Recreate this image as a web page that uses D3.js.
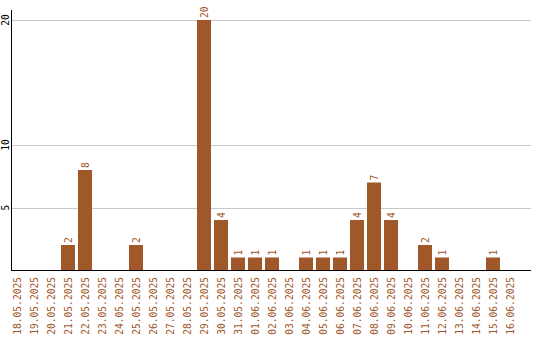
<!DOCTYPE html>
<html>
<head>
<meta charset="utf-8">
<script src="https://cdn.jsdelivr.net/npm/d3@7"></script>
<style>
  body { margin: 0; background: #fff; }
  text { font-family: "DejaVu Sans Mono", monospace; font-size: 9.6px; }
</style>
</head>
<body>
<svg id="chart" width="540" height="340"></svg>
<script>
//* Data
const dates = [
  "18.05.2025", "19.05.2025", "20.05.2025", "21.05.2025", "22.05.2025",
  "23.05.2025", "24.05.2025", "25.05.2025", "26.05.2025", "27.05.2025",
  "28.05.2025", "29.05.2025", "30.05.2025", "31.05.2025", "01.06.2025",
  "02.06.2025", "03.06.2025", "04.06.2025", "05.06.2025", "06.06.2025",
  "07.06.2025", "08.06.2025", "09.06.2025", "10.06.2025", "11.06.2025",
  "12.06.2025", "13.06.2025", "14.06.2025", "15.06.2025", "16.06.2025"
];
const counts = [0, 0, 0, 2, 8, 0, 0, 2, 0, 0, 0, 20, 4, 1, 1, 1, 0, 1, 1, 1, 4, 7, 4, 0, 2, 1, 0, 0, 1, 0];
const yTicks = [5, 10, 20];

const data = dates.map((d, i) => ({ date: d, value: counts[i] }));

//* Chart area
const plotLeft = 11, plotRight = 531, plotTop = 10, plotBottom = 270;
const barColor = "#a0572a";

const svg = d3.select("#chart");

const x = d3.scaleBand()
  .domain(dates)
  .range([8.5, 518.5])
  .paddingInner(3 / 17)
  .paddingOuter(1.5 / 17);

const y = d3.scaleLinear()
  .domain([0, 20])
  .range([plotBottom, 20]);

// gridlines
svg.append("g")
  .selectAll("line")
  .data(yTicks)
  .join("line")
  .attr("x1", plotLeft)
  .attr("x2", plotRight)
  .attr("y1", d => Math.round(y(d)) + 0.5)
  .attr("y2", d => Math.round(y(d)) + 0.5)
  .attr("stroke", "#c8c8c8");

// y tick labels, rotated
svg.append("g")
  .selectAll("text")
  .data(yTicks)
  .join("text")
  .attr("transform", d => `translate(9, ${y(d)}) rotate(-90)`)
  .attr("text-anchor", "middle")
  .attr("fill", "#000")
  .text(d => d);

// bars
svg.append("g")
  .selectAll("rect")
  .data(data.filter(d => d.value > 0))
  .join("rect")
  .attr("x", d => x(d.date))
  .attr("y", d => y(d.value))
  .attr("width", x.bandwidth())
  .attr("height", d => plotBottom - y(d.value))
  .attr("fill", barColor);

// value labels
svg.append("g")
  .selectAll("text")
  .data(data.filter(d => d.value > 0))
  .join("text")
  .attr("transform", d => `translate(${x(d.date) + x.bandwidth() / 2 + 3.5}, ${y(d.value) - 2}) rotate(-90)`)
  .attr("text-anchor", "start")
  .attr("fill", barColor)
  .text(d => d.value);

// x axis labels
svg.append("g")
  .selectAll("text")
  .data(dates)
  .join("text")
  .attr("transform", d => `translate(${x(d) + x.bandwidth() / 2 + 3.5}, 277) rotate(-90)`)
  .attr("text-anchor", "end")
  .attr("fill", barColor)
  .text(d => d);

// axis lines
svg.append("line")
  .attr("x1", plotLeft + 0.5).attr("x2", plotLeft + 0.5)
  .attr("y1", plotTop).attr("y2", plotBottom + 1)
  .attr("stroke", "#000");
svg.append("line")
  .attr("x1", plotLeft).attr("x2", plotRight)
  .attr("y1", plotBottom + 0.5).attr("y2", plotBottom + 0.5)
  .attr("stroke", "#000");
</script>
</body>
</html>
